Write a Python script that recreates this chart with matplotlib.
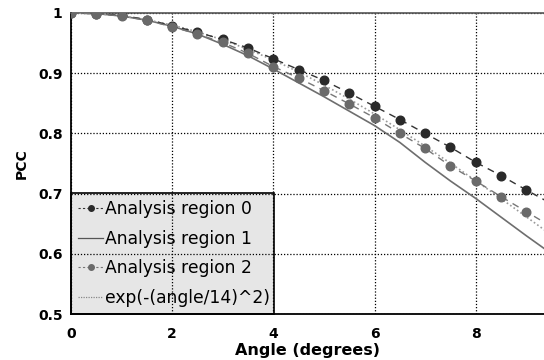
import numpy as np
import matplotlib
matplotlib.use("Agg")
import matplotlib.pyplot as plt
from matplotlib.lines import Line2D

plt.rcParams['font.family'] = ['DejaVu Sans']

# Sample angles (degrees)
angles = [0, 0.5, 1, 1.5, 2, 2.5, 3, 3.5, 4, 4.5, 5, 5.5, 6, 6.5, 7, 7.5, 8, 8.5, 9, 9.5]

# PCC per analysis region
region0 = [1.0, 0.999, 0.996, 0.989, 0.979, 0.968, 0.956, 0.942, 0.924, 0.906,
           0.888, 0.867, 0.845, 0.823, 0.800, 0.777, 0.752, 0.730, 0.706, 0.683]
region1 = [1.0, 0.999, 0.995, 0.988, 0.978, 0.965, 0.948, 0.929, 0.907, 0.884,
           0.861, 0.837, 0.813, 0.785, 0.752, 0.721, 0.692, 0.661, 0.630, 0.600]
region2 = [1.0, 0.999, 0.995, 0.988, 0.977, 0.965, 0.951, 0.933, 0.911, 0.892,
           0.871, 0.849, 0.826, 0.800, 0.775, 0.746, 0.721, 0.695, 0.670, 0.645]

labels = ['Analysis region 0', 'Analysis region 1', 'Analysis region 2',
          'exp(-(angle/14)^2)']

fig = plt.figure(figsize=(5.44, 3.6), dpi=100)
ax = fig.add_axes([71 / 544, 46 / 360, 473 / 544, 301 / 360])

x = np.array(angles)
xs = np.linspace(0, 9.5, 200)
model = np.exp(-(xs / 14.0) ** 2)

ax.plot(x, region0, color='#333333', ls=(0, (5, 4)), lw=1.0, marker='o',
        ms=6.2, mfc='#2a2a2a', mec='#2a2a2a', zorder=4)
ax.plot(x, region1, color='#6e6e6e', ls='-', lw=1.2, zorder=3)
ax.plot(x, region2, color='#777777', ls=(0, (5, 4)), lw=1.0, marker='o',
        ms=6.2, mfc='#6a6a6a', mec='#6a6a6a', zorder=4)
ax.plot(xs, model, color='#9a9a9a', ls=(0, (1, 1.5)), lw=1.2, zorder=3)

ax.set_xlim(0, 9.35)
ax.set_ylim(0.5, 1.0)
ax.set_xticks([0, 2, 4, 6, 8])
ax.set_yticks([0.5, 0.6, 0.7, 0.8, 0.9, 1.0])
ax.set_yticklabels(['0.5', '0.6', '0.7', '0.8', '0.9', '1'])
ax.tick_params(length=0, labelsize=10)
ax.tick_params(axis='x', pad=9)
ax.tick_params(axis='y', pad=6)
for t in ax.get_xticklabels() + ax.get_yticklabels():
    t.set_fontweight('bold')

ax.grid(True, color='black', ls=(0, (1, 1.5)), lw=0.9, zorder=1.5)
ax.set_axisbelow('line')

for side in ('left', 'bottom'):
    ax.spines[side].set_color('black')
    ax.spines[side].set_linewidth(1.3)
ax.spines['top'].set_color('#555555')
ax.spines['top'].set_linewidth(1.2)
ax.spines['right'].set_visible(False)

ax.set_xlabel('Angle (degrees)', fontsize=11.5, fontweight='bold', labelpad=2)
ax.set_ylabel('PCC', fontsize=10, fontweight='bold', labelpad=7)

handles = [
    Line2D([], [], color='#333333', ls=(0, (2, 2)), lw=0.8, marker='o', ms=4,
           mfc='#2a2a2a', mec='#2a2a2a'),
    Line2D([], [], color='#555555', ls='-', lw=0.9),
    Line2D([], [], color='#777777', ls=(0, (2, 2)), lw=0.8, marker='o', ms=4,
           mfc='#6a6a6a', mec='#6a6a6a'),
    Line2D([], [], color='#888888', ls=(0, (1, 1)), lw=0.9),
]
leg = ax.legend(handles, labels, loc='lower left',
                bbox_to_anchor=(0, 0, 4.02 / 9.35, 0.4), mode='expand',
                borderaxespad=0, fontsize=12.3, handlelength=1.45,
                handletextpad=0.1, labelspacing=0.68, borderpad=0.42,
                fancybox=False, framealpha=1, edgecolor='black',
                facecolor='#e6e6e6')
leg.get_frame().set_linewidth(1.2)
leg.set_zorder(1)

fig.savefig('out.png', dpi=100)
